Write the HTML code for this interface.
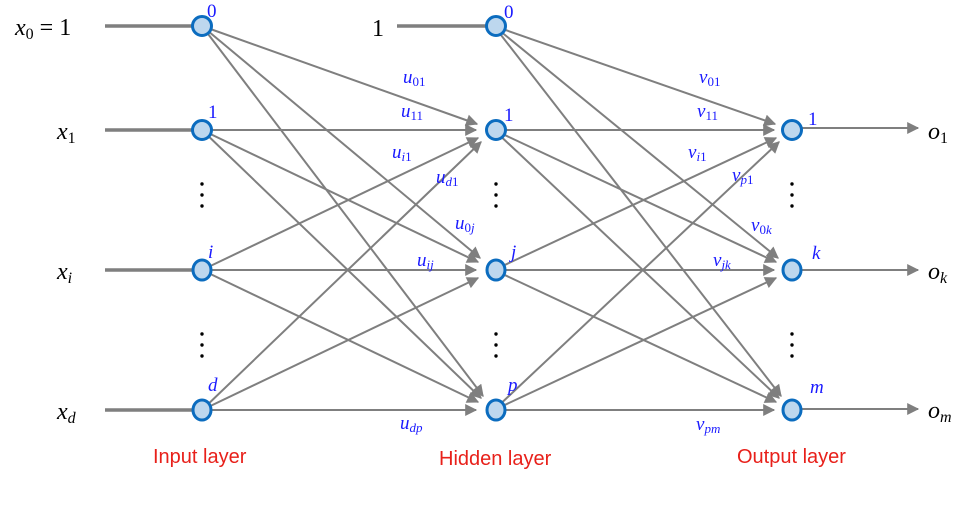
<!DOCTYPE html>
<html><head><meta charset="utf-8"><style>
html,body{margin:0;padding:0;background:#fff;}
svg{display:block}
.m{font-family:"Liberation Serif",serif;font-style:italic;fill:#000}
.b{font-family:"Liberation Serif",serif;font-style:italic;fill:#1a1aff}
.n{font-family:"Liberation Serif",serif;fill:#1a1aff}
.r{font-family:"Liberation Sans",sans-serif;fill:#e8201a;font-size:20px}
</style></head><body>
<svg width="966" height="522" viewBox="0 0 966 522" xmlns="http://www.w3.org/2000/svg">
<defs>
<marker id="A" viewBox="0 0 10 10" refX="9" refY="5" markerWidth="14" markerHeight="12" orient="auto" markerUnits="userSpaceOnUse"><path d="M0,0 L10,5 L0,10 z" fill="#7f7f7f"/></marker></defs>
<g stroke="#7f7f7f" stroke-width="3.5">
<line x1="105" y1="26" x2="195" y2="26"/><line x1="105" y1="130" x2="195" y2="130"/>
<line x1="105" y1="270" x2="195" y2="270"/><line x1="105" y1="410" x2="195" y2="410"/>
<line x1="397" y1="26" x2="488" y2="26"/>
</g>
<g stroke="#7f7f7f" stroke-width="2" marker-end="url(#A)">
<line x1="202" y1="26" x2="477" y2="124"/><line x1="202" y1="26" x2="480" y2="258"/><line x1="202" y1="26" x2="483" y2="396"/>
<line x1="202" y1="130" x2="476" y2="130"/><line x1="202" y1="130" x2="478" y2="262"/><line x1="202" y1="130" x2="481" y2="398"/>
<line x1="202" y1="270" x2="478" y2="138"/><line x1="202" y1="270" x2="476" y2="270"/><line x1="202" y1="270" x2="478" y2="402"/>
<line x1="202" y1="410" x2="481" y2="142"/><line x1="202" y1="410" x2="478" y2="278"/><line x1="202" y1="410" x2="476" y2="410"/>
<line x1="494" y1="26" x2="775" y2="124"/><line x1="494" y1="26" x2="778" y2="258"/><line x1="494" y1="26" x2="781" y2="396"/>
<line x1="494" y1="130" x2="774" y2="130"/><line x1="494" y1="130" x2="776" y2="262"/><line x1="494" y1="130" x2="779" y2="398"/>
<line x1="494" y1="270" x2="776" y2="138"/><line x1="494" y1="270" x2="774" y2="270"/><line x1="494" y1="270" x2="776" y2="402"/>
<line x1="494" y1="410" x2="779" y2="142"/><line x1="494" y1="410" x2="776" y2="278"/><line x1="494" y1="410" x2="774" y2="410"/>
<line x1="800" y1="128" x2="918" y2="128"/><line x1="800" y1="270" x2="918" y2="270"/><line x1="800" y1="409" x2="918" y2="409"/>
</g>
<g fill="#bdd7ee" stroke="#0b6cbf" stroke-width="3">
<circle cx="202" cy="26" r="9.5"/><circle cx="202" cy="130" r="9.5"/><ellipse cx="202" cy="270" rx="9" ry="10"/><ellipse cx="202" cy="410" rx="9" ry="10"/>
<circle cx="496" cy="26" r="9.5"/><circle cx="496" cy="130" r="9.5"/><ellipse cx="496" cy="270" rx="9" ry="10"/><ellipse cx="496" cy="410" rx="9" ry="10"/>
<circle cx="792" cy="130" r="9.5"/><ellipse cx="792" cy="270" rx="9" ry="10"/><ellipse cx="792" cy="410" rx="9" ry="10"/>
</g>
<g fill="#000">
<circle cx="202" cy="184" r="1.7"/><circle cx="202" cy="195" r="1.7"/><circle cx="202" cy="206" r="1.7"/>
<circle cx="202" cy="334" r="1.7"/><circle cx="202" cy="345" r="1.7"/><circle cx="202" cy="356" r="1.7"/>
<circle cx="496" cy="184" r="1.7"/><circle cx="496" cy="195" r="1.7"/><circle cx="496" cy="206" r="1.7"/>
<circle cx="496" cy="334" r="1.7"/><circle cx="496" cy="345" r="1.7"/><circle cx="496" cy="356" r="1.7"/>
<circle cx="792" cy="184" r="1.7"/><circle cx="792" cy="195" r="1.7"/><circle cx="792" cy="206" r="1.7"/>
<circle cx="792" cy="334" r="1.7"/><circle cx="792" cy="345" r="1.7"/><circle cx="792" cy="356" r="1.7"/>
</g>
<g font-size="24">
<text x="15" y="35" class="m">x<tspan font-size="16" dy="4" font-style="normal">0</tspan><tspan dy="-4" font-style="normal"> = 1</tspan></text>
<text x="57" y="139" class="m">x<tspan font-size="16" dy="4" font-style="normal">1</tspan></text>
<text x="57" y="279" class="m">x<tspan font-size="16" dy="4">i</tspan></text>
<text x="57" y="419" class="m">x<tspan font-size="16" dy="4">d</tspan></text>
<text x="372" y="36" font-family="Liberation Serif" font-size="24">1</text>
<text x="928" y="139" class="m">o<tspan font-size="16" dy="4" font-style="normal">1</tspan></text>
<text x="928" y="279" class="m">o<tspan font-size="16" dy="4">k</tspan></text>
<text x="928" y="418" class="m">o<tspan font-size="16" dy="4">m</tspan></text>
</g>
<g font-size="19">
<text x="207" y="17" class="n">0</text><text x="208" y="118" class="n">1</text><text x="208" y="258" class="b">i</text><text x="208" y="391" class="b">d</text>
<text x="504" y="18" class="n">0</text><text x="504" y="121" class="n">1</text><text x="511" y="258" class="b">j</text><text x="508" y="391" class="b">p</text>
<text x="808" y="125" class="n">1</text><text x="812" y="259" class="b">k</text><text x="810" y="393" class="b">m</text>
</g>
<g font-size="19">
<text x="403" y="83" class="b">u<tspan font-size="13" dy="3" font-style="normal">01</tspan></text>
<text x="401" y="117" class="b">u<tspan font-size="13" dy="3" font-style="normal">11</tspan></text>
<text x="392" y="158" class="b">u<tspan font-size="13" dy="3">i</tspan><tspan font-size="13" font-style="normal">1</tspan></text>
<text x="436" y="183" class="b">u<tspan font-size="13" dy="3">d</tspan><tspan font-size="13" font-style="normal">1</tspan></text>
<text x="455" y="229" class="b">u<tspan font-size="13" dy="3" font-style="normal">0</tspan><tspan font-size="13">j</tspan></text>
<text x="417" y="266" class="b">u<tspan font-size="13" dy="3">ij</tspan></text>
<text x="400" y="429" class="b">u<tspan font-size="13" dy="3">dp</tspan></text>
<text x="699" y="83" class="b">v<tspan font-size="13" dy="3" font-style="normal">01</tspan></text>
<text x="697" y="117" class="b">v<tspan font-size="13" dy="3" font-style="normal">11</tspan></text>
<text x="688" y="158" class="b">v<tspan font-size="13" dy="3">i</tspan><tspan font-size="13" font-style="normal">1</tspan></text>
<text x="732" y="181" class="b">v<tspan font-size="13" dy="3">p</tspan><tspan font-size="13" font-style="normal">1</tspan></text>
<text x="751" y="231" class="b">v<tspan font-size="13" dy="3" font-style="normal">0</tspan><tspan font-size="13">k</tspan></text>
<text x="713" y="266" class="b">v<tspan font-size="13" dy="3">jk</tspan></text>
<text x="696" y="430" class="b">v<tspan font-size="13" dy="3">pm</tspan></text>
</g>
<text x="153" y="463" class="r">Input layer</text>
<text x="439" y="465" class="r">Hidden layer</text>
<text x="737" y="463" class="r">Output layer</text>
</svg>
</body></html>
